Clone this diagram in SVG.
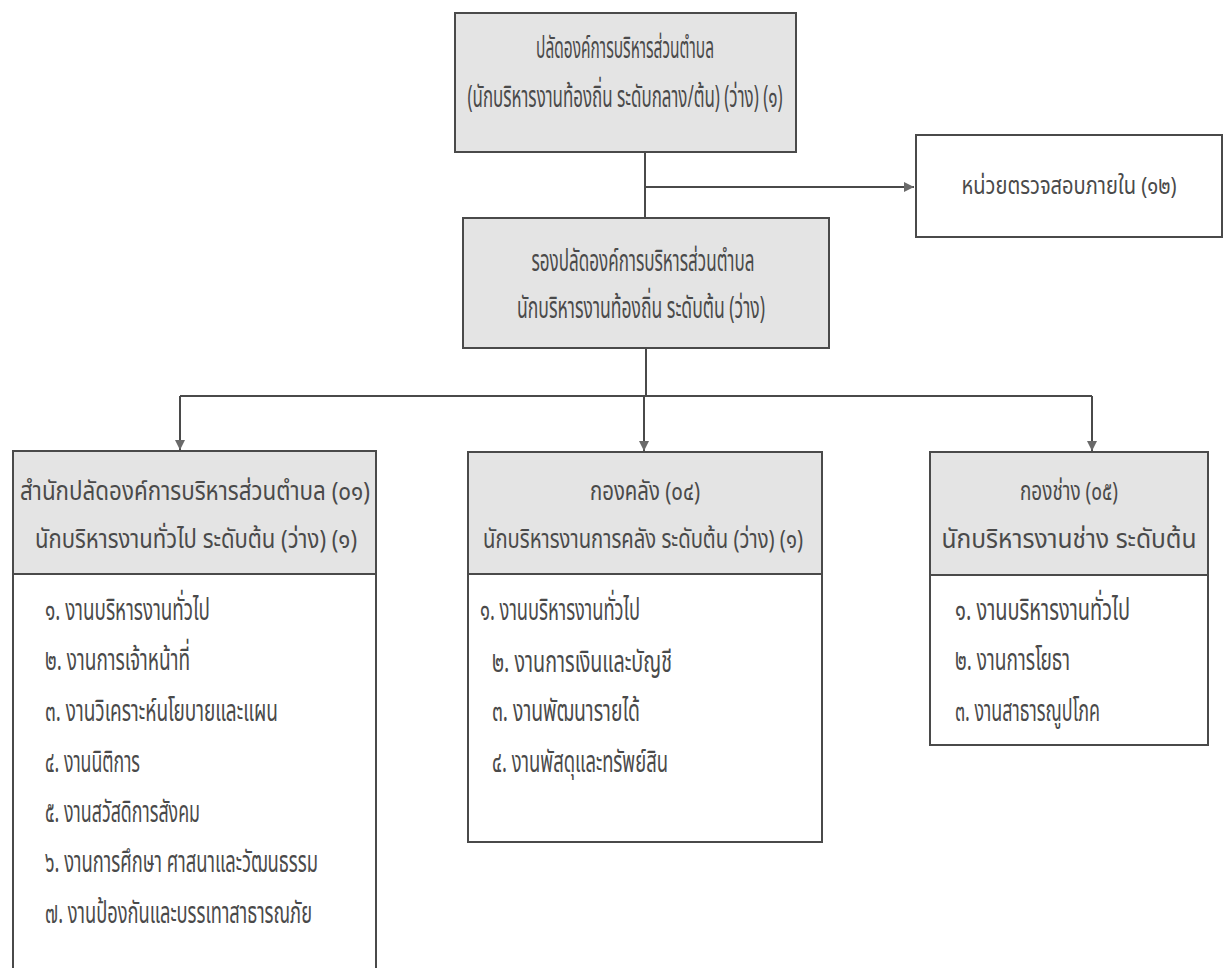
<svg xmlns="http://www.w3.org/2000/svg" width="1230" height="968" viewBox="0 0 1230 968">
<style>
.bx{stroke:#4a4a4a;stroke-width:2}
.hd{fill:#e4e4e4}
.wt{fill:#ffffff}
.t{font-family:"Noto Sans Thai","Noto Sans","DejaVu Sans",sans-serif;font-size:31px;fill:#4a4a4a;dominant-baseline:central}
.c{text-anchor:middle}
.s{font-size:26px}
.xs{font-size:24px}
.ln{stroke:#4a4a4a;stroke-width:2;fill:none}
</style>
<defs>
<marker id="ar" viewBox="0 0 10 10" refX="10" refY="5" markerWidth="10" markerHeight="10" markerUnits="userSpaceOnUse" orient="auto">
<path d="M0,0 L10,5 L0,10 z" fill="#6a6a6a"/>
</marker>
</defs>
<rect width="1230" height="968" fill="#ffffff"/>
<g id="connectors">
<path class="ln" d="M645 152 V218"/>
<path class="ln" d="M645 187 H914" marker-end="url(#ar)"/>
<path class="ln" d="M646 348 V396"/>
<path class="ln" d="M180 396 H1092"/>
<path class="ln" d="M180 396 V450" marker-end="url(#ar)"/>
<path class="ln" d="M644 396 V451" marker-end="url(#ar)"/>
<path class="ln" d="M1092 396 V451" marker-end="url(#ar)"/>
</g>
<g id="n1">
<rect class="bx hd" x="455" y="13" width="341" height="139"/>
<text class="t c" x="625" y="48" textLength="178" lengthAdjust="spacingAndGlyphs">ปลัดองค์การบริหารส่วนตำบล</text>
<text class="t c" x="625" y="97" textLength="315" lengthAdjust="spacingAndGlyphs">(นักบริหารงานท้องถิ่น ระดับกลาง/ต้น) (ว่าง) (๑)</text>
</g>
<g id="n2">
<rect class="bx wt" x="916" y="135" width="306" height="102"/>
<text class="t c xs" x="1069" y="187" textLength="215" lengthAdjust="spacingAndGlyphs">หน่วยตรวจสอบภายใน (๑๒)</text>
</g>
<g id="n3">
<rect class="bx hd" x="463" y="218" width="366" height="130"/>
<text class="t c" x="643" y="261" textLength="223" lengthAdjust="spacingAndGlyphs">รองปลัดองค์การบริหารส่วนตำบล</text>
<text class="t c" x="641" y="308" textLength="248" lengthAdjust="spacingAndGlyphs">นักบริหารงานท้องถิ่น ระดับต้น (ว่าง)</text>
</g>
<g id="n4">
<rect class="bx hd" x="13" y="451" width="363" height="123"/>
<rect class="bx wt" x="13" y="574" width="363" height="410"/>
<text class="t c s" x="195" y="492" textLength="350" lengthAdjust="spacingAndGlyphs">สำนักปลัดองค์การบริหารส่วนตำบล (๐๑)</text>
<text class="t c s" x="196" y="540" textLength="322" lengthAdjust="spacingAndGlyphs">นักบริหารงานทั่วไป ระดับต้น (ว่าง) (๑)</text>
<text class="t" x="45" y="610" textLength="165" lengthAdjust="spacingAndGlyphs">๑. งานบริหารงานทั่วไป</text>
<text class="t" x="45" y="660" textLength="145" lengthAdjust="spacingAndGlyphs">๒. งานการเจ้าหน้าที่</text>
<text class="t" x="45" y="711" textLength="233" lengthAdjust="spacingAndGlyphs">๓. งานวิเคราะห์นโยบายและแผน</text>
<text class="t" x="45" y="762" textLength="95" lengthAdjust="spacingAndGlyphs">๔. งานนิติการ</text>
<text class="t" x="45" y="812" textLength="155" lengthAdjust="spacingAndGlyphs">๕. งานสวัสดิการสังคม</text>
<text class="t" x="45" y="862" textLength="273" lengthAdjust="spacingAndGlyphs">๖. งานการศึกษา ศาสนาและวัฒนธรรม</text>
<text class="t" x="45" y="913" textLength="267" lengthAdjust="spacingAndGlyphs">๗. งานป้องกันและบรรเทาสาธารณภัย</text>
</g>
<g id="n5">
<rect class="bx hd" x="468" y="452" width="354" height="122"/>
<rect class="bx wt" x="468" y="574" width="354" height="268"/>
<text class="t c s" x="645" y="492" textLength="110" lengthAdjust="spacingAndGlyphs">กองคลัง (๐๔)</text>
<text class="t c s" x="643" y="540" textLength="320" lengthAdjust="spacingAndGlyphs">นักบริหารงานการคลัง ระดับต้น (ว่าง) (๑)</text>
<text class="t" x="480" y="610" textLength="160" lengthAdjust="spacingAndGlyphs">๑. งานบริหารงานทั่วไป</text>
<text class="t" x="492" y="662" textLength="180" lengthAdjust="spacingAndGlyphs">๒. งานการเงินและบัญชี</text>
<text class="t" x="492" y="711" textLength="148" lengthAdjust="spacingAndGlyphs">๓. งานพัฒนารายได้</text>
<text class="t" x="492" y="762" textLength="176" lengthAdjust="spacingAndGlyphs">๔. งานพัสดุและทรัพย์สิน</text>
</g>
<g id="n6">
<rect class="bx hd" x="930" y="452" width="278" height="123"/>
<rect class="bx wt" x="930" y="575" width="278" height="170"/>
<text class="t c s" x="1069" y="492" textLength="98" lengthAdjust="spacingAndGlyphs">กองช่าง (๐๕)</text>
<text class="t c s" x="1069" y="540" textLength="255" lengthAdjust="spacingAndGlyphs">นักบริหารงานช่าง ระดับต้น</text>
<text class="t" x="955" y="610" textLength="175" lengthAdjust="spacingAndGlyphs">๑. งานบริหารงานทั่วไป</text>
<text class="t" x="955" y="660" textLength="115" lengthAdjust="spacingAndGlyphs">๒. งานการโยธา</text>
<text class="t" x="955" y="711" textLength="145" lengthAdjust="spacingAndGlyphs">๓. งานสาธารณูปโภค</text>
</g>
</svg>
